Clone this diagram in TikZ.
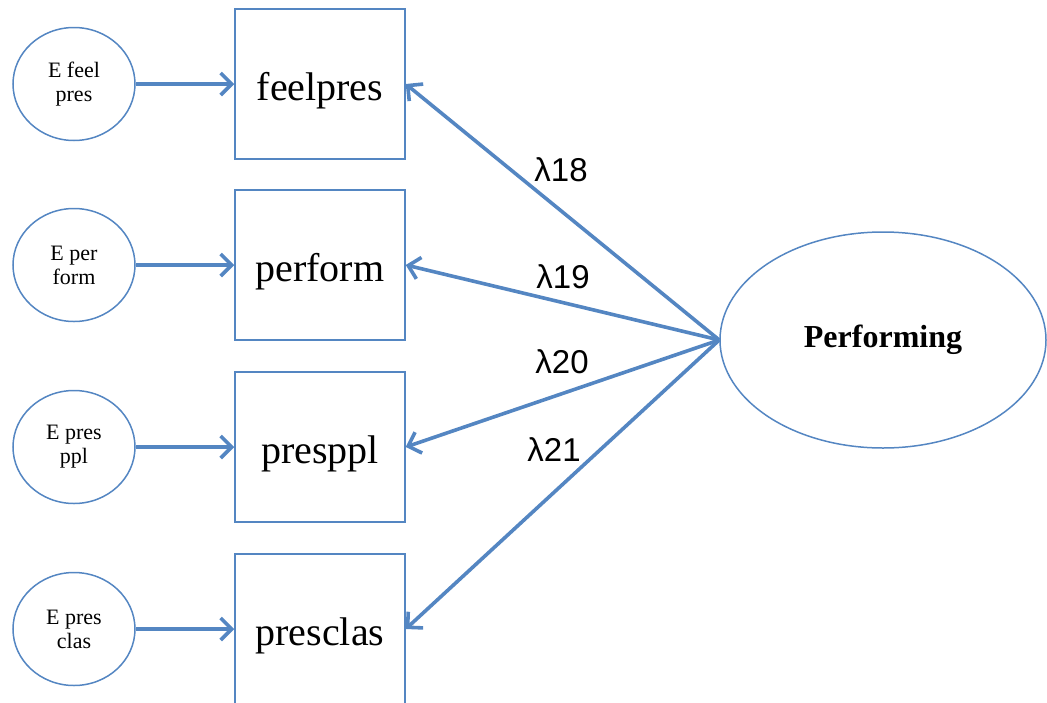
\documentclass[tikz,border=0pt]{standalone}
\usepackage{fontspec}
\setmainfont{Liberation Serif}
\newfontfamily\lamfont{Liberation Sans}
\usetikzlibrary{arrows.meta,shapes.geometric}
\definecolor{edgeblue}{RGB}{84,134,194}
\begin{document}
\begin{tikzpicture}[x=1pt,y=-1pt,
  errnode/.style={ellipse, draw=edgeblue, line width=1.5pt, minimum width=122pt,
    minimum height=113pt, inner sep=0pt, align=center,
    font=\fontsize{22}{24}\selectfont},
  indbox/.style={rectangle, draw=edgeblue, line width=1.5pt, minimum width=170pt,
    minimum height=150pt, text height=32pt, text depth=0pt,
    font=\fontsize{40}{44}\selectfont},
  latent/.style={ellipse, draw=edgeblue, line width=1.5pt, minimum width=326pt,
    minimum height=216pt, inner sep=0pt, font=\bfseries\fontsize{32}{36}\selectfont},
  link/.style={draw=edgeblue, line width=3.6pt, -{Straight Barb[length=11pt,width=22pt]}},
  lam/.style={font=\lamfont\fontsize{33}{36}\selectfont, inner sep=0pt}]
\useasboundingbox (0,0) rectangle (1047,702);
\clip (0,0) rectangle (1047,702);

% indicators
\node[indbox] (b1) at (320,84)  {feelpres};
\node[indbox] (b2) at (320,265) {perform};
\node[indbox] (b3) at (320,447) {presppl};
\node[indbox] (b4) at (320,629) {presclas};

% error terms, level with their indicators
\node[errnode] (e1) at (74,84)  {E feel\\pres};
\node[errnode] (e2) at (74,265) {E per\\form};
\node[errnode] (e3) at (74,447) {E pres\\ppl};
\node[errnode] (e4) at (74,629) {E pres\\clas};

% latent factor
\node[latent] (lat) at (883,340) {Performing};

% error paths
\draw[link] (e1.east) -- (b1.west);
\draw[link] (e2.east) -- (b2.west);
\draw[link] (e3.east) -- (b3.west);
\draw[link] (e4.east) -- (b4.west);

% loadings
\draw[link] (lat.west) -- (b1.east);
\draw[link] (lat.west) -- (b2.east);
\draw[link] (lat.west) -- (b3.east);
\draw[link] (lat.west) -- (b4.east);

\node[lam] (l18) at (561,170) {λ18};
\node[lam] (l19) at (563,277) {λ19};
\node[lam] (l20) at (562,362) {λ20};
\node[lam] (l21) at (554,450) {λ21};
\end{tikzpicture}
\end{document}
